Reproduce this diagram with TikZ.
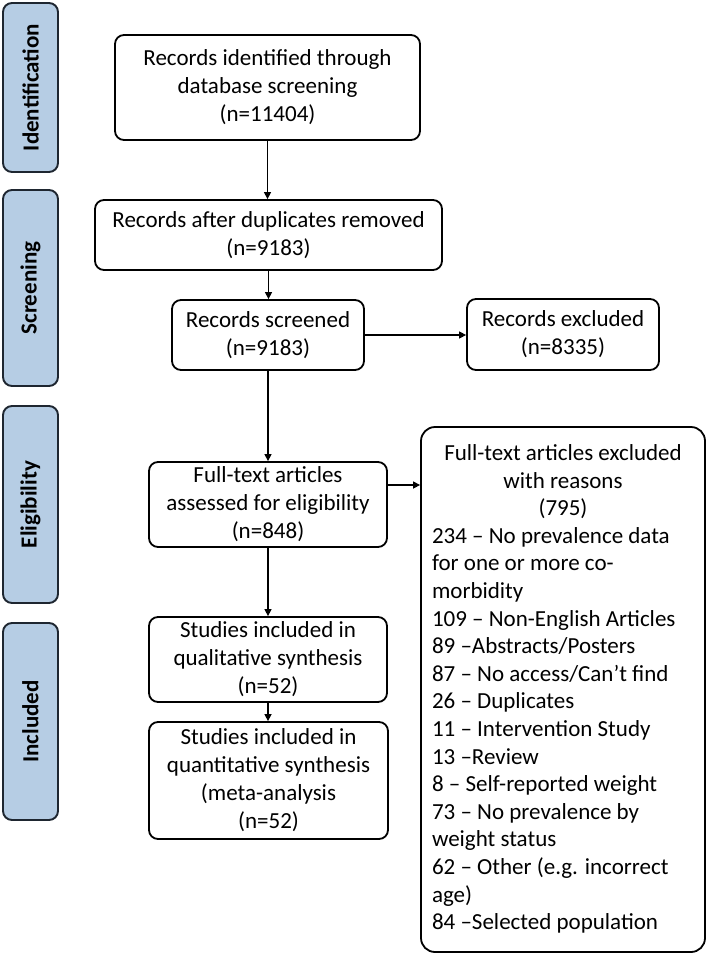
\documentclass[tikz,border=0pt]{standalone}
\usepackage{fontspec}
\usepackage{array}
\setmainfont{Carlito}
\usetikzlibrary{arrows.meta}
\definecolor{sideblue}{RGB}{182,205,228}
\definecolor{sideedge}{RGB}{30,38,48}
\setlength{\parindent}{0pt}
\newcolumntype{L}{@{}>{\raggedright\arraybackslash}p{262pt}@{}}
\newcolumntype{C}{@{}>{\centering\arraybackslash}p{262pt}@{}}
\begin{document}
\begin{tikzpicture}[x=1pt,y=-1pt,
  box/.style={draw=black, line width=1.8pt, rounded corners=9pt, align=center, inner sep=0pt, font=\fontsize{23}{28}\selectfont},
  side/.style={draw=sideedge, fill=sideblue, line width=1.9pt, rounded corners=9pt, rotate=90, inner sep=0pt, minimum height=55pt, font=\fontsize{23}{28}\selectfont\bfseries},
  arr/.style={line width=1.4pt, -{Triangle[length=7pt,width=7pt]}}]
\useasboundingbox (0,0) rectangle (709,955);

% side labels
\node[side, minimum width=169pt] (s1) at (30.5,87.5) {Identification};
\node[side, minimum width=196pt] (s2) at (30.5,288) {Screening};
\node[side, minimum width=197pt] (s3) at (30.5,504.5) {Eligibility};
\node[side, minimum width=197pt] (s4) at (30.5,721.5) {Included};

% main boxes
\node[box, minimum width=305pt, minimum height=105pt] (b1) at (267.5,87.5) {Records identified through\\database screening\\(n=11404)};
\node[box, minimum width=347pt, minimum height=70pt] (b2) at (268.5,235) {Records after duplicates removed\\(n=9183)};
\node[box, minimum width=192pt, minimum height=70pt] (b3) at (268,335) {Records screened\\(n=9183)};
\node[box, minimum width=192pt, minimum height=71pt] (ex1) at (563,334.5) {Records excluded\\(n=8335)};
\node[box, minimum width=238pt, minimum height=85pt] (b4) at (268,504.5) {Full-text articles\\assessed for eligibility\\(n=848)};
\node[box, minimum width=238pt, minimum height=85pt] (b5) at (268,659.5) {Studies included in\\qualitative synthesis\\(n=52)};
\node[box, minimum width=239pt, minimum height=117pt] (b6) at (268.5,780.5) {Studies included in\\quantitative synthesis\\(meta-analysis\\(n=52)};
\node[draw=black, line width=1.8pt, rounded corners=14pt, inner sep=0pt, minimum width=284pt, minimum height=525pt, font=\fontsize{23}{27.6}\selectfont] (big) at (563,689.5) {\raisebox{3pt}{\begin{tabular}{L}
\multicolumn{1}{C}{Full-text articles excluded}\\
\multicolumn{1}{C}{with reasons}\\
\multicolumn{1}{C}{(795)}\\
234 – No prevalence data\\
for one or more co-\\
morbidity\\
109 – Non-English Articles\\
89 –Abstracts/Posters\\
87 – No access/Can’t find\\
26 – Duplicates\\
11 – Intervention Study\\
13 –Review\\
8 – Self-reported weight\\
73 – No prevalence by\\
weight status\\
62 – Other (e.g. incorrect\\
age)\\
84 –Selected population
\end{tabular}}};

% connectors
\draw[arr] (b1.south) -- (b1.south |- b2.north);
\draw[arr] (b2.south) -- (b2.south |- b3.north);
\draw[arr] (b3.east) -- (b3.east -| ex1.west);
\draw[arr] (b3.south) -- (b3.south |- b4.north);
\draw[arr] ([yshift=19.5pt]b4.east) -- ([yshift=19.5pt]b4.east -| big.west);
\draw[arr] (b4.south) -- (b4.south |- b5.north);
\draw[arr] (b5.south) -- (b5.south |- b6.north);
\end{tikzpicture}
\end{document}
